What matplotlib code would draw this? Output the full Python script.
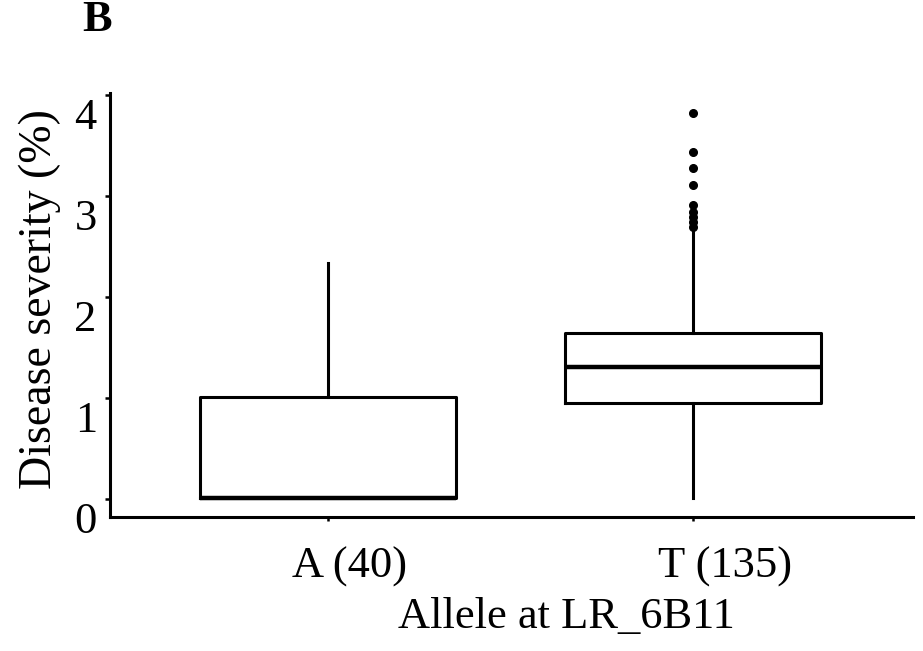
import matplotlib
matplotlib.use("Agg")
import matplotlib.pyplot as plt
import matplotlib.transforms as mtransforms

# Datos (resumen de cada caja)
grupos = ["A (40)", "T (135)"]
q1 = [0.01, 0.95]
mediana = [0.01, 1.31]
q3 = [1.01, 1.64]
bigote_inf = [0.01, 0.01]
bigote_sup = [2.34, 2.64]
atipicos_T = [3.82, 3.44, 3.28, 3.11, 2.91, 2.84, 2.79, 2.74, 2.69]
atipicos = [[], atipicos_T]

plt.rcParams["font.family"] = ["Liberation Serif", "DejaVu Serif"]

fig = plt.figure(figsize=(9.23, 6.51), dpi=100)
ax = fig.add_axes([110 / 923, 134 / 651, 803 / 923, 424 / 651])

stats = []
for i in range(len(grupos)):
    stats.append({
        "label": grupos[i],
        "q1": q1[i], "med": mediana[i], "q3": q3[i],
        "whislo": bigote_inf[i], "whishi": bigote_sup[i],
        "fliers": atipicos[i],
    })

ax.bxp(stats, positions=[1, 2], widths=0.70, showcaps=False,
       boxprops=dict(color="black", linewidth=2.2),
       medianprops=dict(color="black", linewidth=3.2),
       whiskerprops=dict(color="black", linewidth=2.2),
       flierprops=dict(marker="o", markerfacecolor="black",
                       markeredgecolor="black", markersize=5.5))

ax.set_xlim(0.403, 2.603)
ax.set_ylim(-0.178, 4.02)
ax.set_yticks([0, 1, 2, 3, 4])

for s in ["top", "right"]:
    ax.spines[s].set_visible(False)
for s in ["left", "bottom"]:
    ax.spines[s].set_linewidth(2.2)

ax.tick_params(axis="y", length=3.5, width=1.8, pad=6, labelsize=32)
ax.tick_params(axis="x", length=3, width=1.8, pad=18, labelsize=32)

# las etiquetas de los ejes aparecen desplazadas en el original
for lab in ax.get_yticklabels():
    lab.set_transform(lab.get_transform() +
                      mtransforms.ScaledTranslation(0, -0.18, fig.dpi_scale_trans))
desp_x = [0.22, 0.32]
for lab, d in zip(ax.get_xticklabels(), desp_x):
    lab.set_transform(lab.get_transform() +
                      mtransforms.ScaledTranslation(d, 0, fig.dpi_scale_trans))

ax.set_xlabel("Allele at LR_6B11", fontsize=32)
ax.xaxis.label.set_va("center")
ax.xaxis.set_label_coords(0.568, -0.236)
ax.set_ylabel("Disease severity (%)", fontsize=33)
ax.yaxis.label.set_va("center")
ax.yaxis.set_label_coords(-0.088, 0.515)

fig.text(97 / 923, 1 - 20 / 651, "B", fontsize=32, fontweight="bold",
         ha="center", va="center")

fig.savefig("out.png", dpi=100, facecolor="white")
